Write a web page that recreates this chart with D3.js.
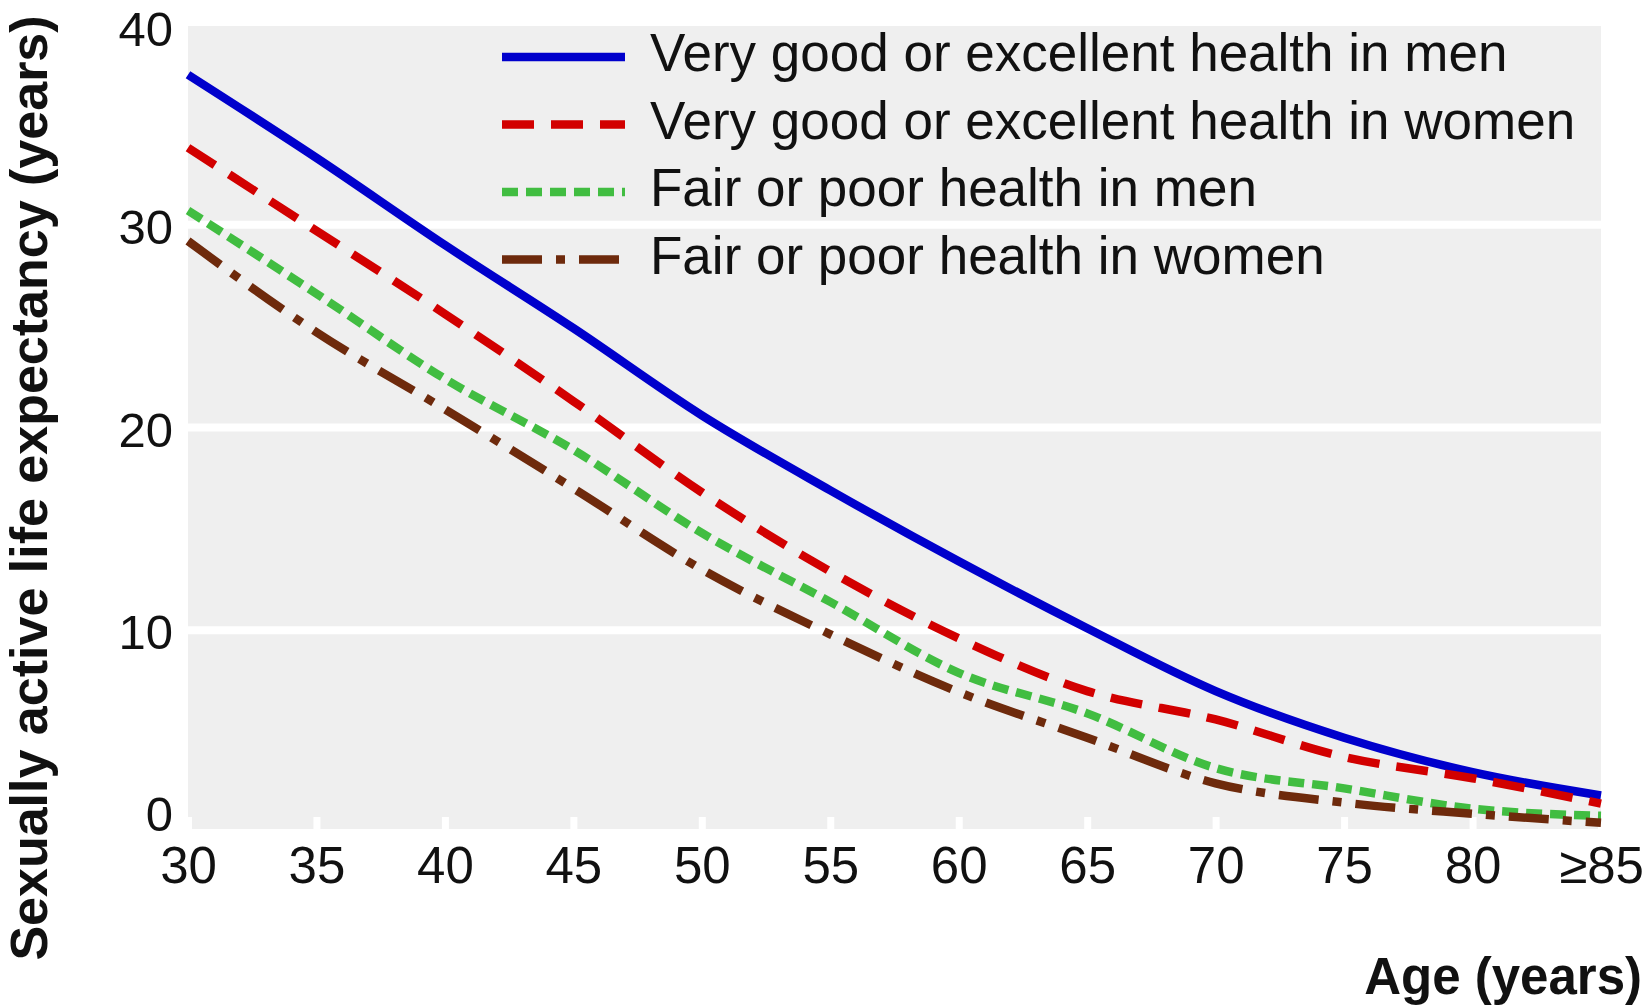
<!DOCTYPE html>
<html lang="en">
<head>
  <meta charset="UTF-8">
  <title>Sexually active life expectancy by age</title>
  <style>
    body {
      margin: 0;
      background: #fff;
    }
    svg text {
      font-family: "Liberation Sans", Arial, sans-serif;
      fill: #111;
    }
    .axis-title {
      font-weight: bold;
    }
  </style>
</head>
<body>
  <div id="chart"></div>

  <script src="https://d3js.org/d3.v7.min.js"></script>
  <script>
    // ages along the x axis and their labels
    const ages = [30, 35, 40, 45, 50, 55, 60, 65, 70, 75, 80, 85];
    const ageLabels = ["30", "35", "40", "45", "50", "55", "60", "65", "70", "75", "80", "≥85"];
    const yTicks = [0, 10, 20, 30, 40];

    // sexually active life expectancy (years)
    const veryGoodMen   = [37.4, 33.3, 29.0, 24.9, 20.6, 16.9, 13.4, 10.1, 7.0, 4.7, 3.0, 1.85];
    const veryGoodWomen = [33.8, 29.7, 25.6, 21.3, 16.8, 12.9, 9.6, 7.0, 5.6, 3.75, 2.7, 1.45];
    const fairPoorMen   = [30.7, 26.6, 22.4, 18.9, 14.8, 11.4, 7.9, 5.9, 3.2, 2.2, 1.2, 0.85];
    const fairPoorWomen = [29.2, 24.7, 20.9, 17.0, 13.0, 9.8, 6.95, 4.7, 2.45, 1.5, 0.95, 0.5];

    const seriesNames = [
      "Very good or excellent health in men",
      "Very good or excellent health in women",
      "Fair or poor health in men",
      "Fair or poor health in women"
    ];

    const series = [
      { name: seriesNames[0], values: veryGoodMen,   color: "#0000cc", dash: null },
      { name: seriesNames[1], values: veryGoodWomen, color: "#d20000", dash: "32,17" },
      { name: seriesNames[2], values: fairPoorMen,   color: "#41bd41", dash: "16,8" },
      { name: seriesNames[3], values: fairPoorWomen, color: "#6e2a0c", dash: "40,14,9,14" }
    ];

    const width = 1645;
    const height = 1005;
    const margin = { top: 22, right: 44, bottom: 172, left: 188 };

    const svg = d3.select("#chart")
                  .append("svg")
                  .attr("width", width)
                  .attr("height", height);

    const x = d3.scaleLinear()
                .domain([30, 85])
                .range([margin.left, width - margin.right]);

    const y = d3.scaleLinear()
                .domain([0, 40])
                .range([height - margin.bottom, margin.top]);

    // plot background
    svg.append("rect")
       .attr("x", x(30))
       .attr("y", y(40))
       .attr("width", x(85) - x(30))
       .attr("height", y(0) - y(40))
       .attr("fill", "#efefef");

    // white horizontal gridlines
    svg.append("g")
       .selectAll("line")
       .data(yTicks)
       .join("line")
       .attr("x1", x(30))
       .attr("x2", x(85))
       .attr("y1", d => y(d))
       .attr("y2", d => y(d))
       .attr("stroke", "#fff")
       .attr("stroke-width", 8);

    // x axis: white tick marks inside the panel, labels below
    const xAxis = d3.axisBottom(x)
                    .tickValues(ages)
                    .tickFormat((d, i) => ageLabels[i])
                    .tickSize(-16)
                    .tickPadding(14);

    const gx = svg.append("g")
                  .attr("transform", `translate(0,${y(0)})`)
                  .call(xAxis);
    gx.select(".domain").remove();
    gx.selectAll(".tick line")
      .attr("stroke", "#fff")
      .attr("stroke-width", 7);
    gx.selectAll(".tick text")
      .attr("font-size", 51)
      .attr("font-family", null)
      .attr("fill", "#111");

    // y axis labels only
    const yAxis = d3.axisLeft(y)
                    .tickValues(yTicks)
                    .tickSize(0)
                    .tickPadding(15);

    const gy = svg.append("g")
                  .attr("transform", `translate(${x(30)},0)`)
                  .call(yAxis);
    gy.select(".domain").remove();
    gy.selectAll(".tick text")
      .attr("font-size", 49)
      .attr("font-family", null)
      .attr("fill", "#111")
      .attr("dy", d => d === 0 ? "-0.05em" : (d === 40 ? "0.48em" : "0.38em"));

    // lines
    const line = d3.line()
                   .x((d, i) => x(ages[i]))
                   .y(d => y(d))
                   .curve(d3.curveMonotoneX);

    svg.append("g")
       .selectAll("path")
       .data(series)
       .join("path")
       .attr("d", d => line(d.values))
       .attr("fill", "none")
       .attr("stroke", d => d.color)
       .attr("stroke-width", 8.5)
       .attr("stroke-dasharray", d => d.dash);

    // legend
    const legend = svg.append("g")
                      .attr("transform", "translate(502,71)");

    const items = legend.selectAll("g")
                        .data(series)
                        .join("g")
                        .attr("transform", (d, i) => `translate(0,${i * 67.5})`);

    items.append("line")
         .attr("x1", 0)
         .attr("x2", 123)
         .attr("y1", -14)
         .attr("y2", -14)
         .attr("stroke", d => d.color)
         .attr("stroke-width", 8.5)
         .attr("stroke-dasharray", d => d.dash);

    items.append("text")
         .attr("x", 148)
         .attr("font-size", 53)
         .text(d => d.name);

    // axis titles
    svg.append("text")
       .attr("class", "axis-title")
       .attr("transform", `translate(47,${(16 + 960) / 2}) rotate(-90)`)
       .attr("text-anchor", "middle")
       .attr("font-size", 52)
       .text("Sexually active life expectancy (years)");

    svg.append("text")
       .attr("class", "axis-title")
       .attr("x", width - 3)
       .attr("y", 994)
       .attr("text-anchor", "end")
       .attr("font-size", 51)
       .text("Age (years)");
  </script>
</body>
</html>
